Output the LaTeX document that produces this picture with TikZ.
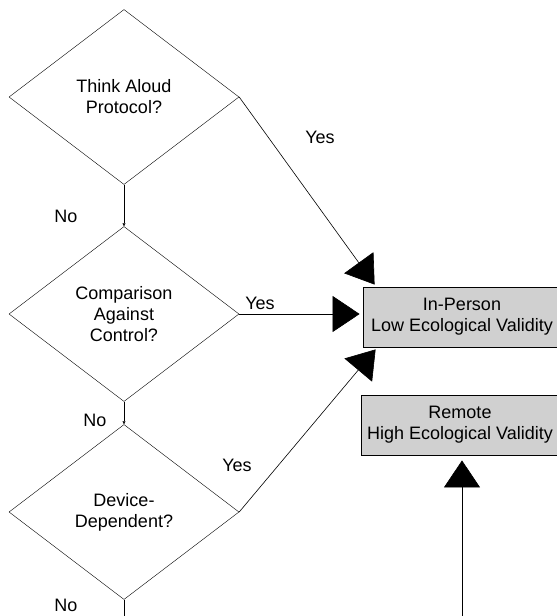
\documentclass[tikz,border=0pt]{standalone}
\usepackage{fontspec}
\setmainfont{Liberation Sans}
\usetikzlibrary{arrows.meta, positioning, shapes.geometric}

\begin{document}
\begin{tikzpicture}[
        x=1pt, y=1pt,
        decision/.style={diamond, draw, aspect=1.314, inner sep=0pt, minimum width=230pt, minimum height=175pt, align=center, font=\fontsize{18}{21}\selectfont},
        outcome/.style={rectangle, draw, thick, fill={rgb,255:red,208;green,208;blue,208}, minimum width=198pt, minimum height=60pt, align=center, font=\fontsize{18}{21}\selectfont},
        answer/.style={font=\fontsize{18}{21}\selectfont},
        arrow/.style={-{Triangle[length=27pt, width=36pt]}, semithick},
        flow/.style={-{Triangle[length=3pt, width=3pt]}, semithick},
        ]
        \useasboundingbox (0,0) rectangle (557,-616);

        % Nodes
        \node[decision] (Think) at (124,-97) {Think Aloud\\Protocol?};
        \node[decision] (Compare) at (124,-314) {Comparison\\Against\\Control?};
        \node[decision] (Device) at (124,-512) {Device-\\Dependent?};
        \node[outcome] (InPerson) at (462,-317) {In-Person\\Low Ecological Validity};
        \node[outcome] (Remote) at (460,-425) {Remote\\High Ecological Validity};
        \coordinate (DeviceExit) at (124,-616);
        \coordinate (RemoteEntry) at (462,-616);

        % Answers
        \node[answer] (ThinkYes) at (320,-137) {Yes};
        \node[answer] (ThinkNo) at (66,-216) {No};
        \node[answer] (CompareYes) at (260,-303) {Yes};
        \node[answer] (CompareNo) at (95,-420) {No};
        \node[answer] (DeviceYes) at (237,-465) {Yes};
        \node[answer] (DeviceNo) at (66,-605) {No};

        % Arrows
        \draw[arrow] (Think.east) -- ([xshift=12pt, yshift=2pt]InPerson.north west);
        \draw[arrow] (Compare.east) -- ([xshift=-3pt]Compare.east -| InPerson.west);
        \draw[arrow] (Device.east) -- ([xshift=13pt, yshift=-2pt]InPerson.south west);
        \draw[arrow] (RemoteEntry) -- ([yshift=-5pt]RemoteEntry |- Remote.south);
        \draw[flow] (Think.south) -- (Compare.north);
        \draw[flow] (Compare.south) -- (Device.north);
        \draw[semithick] (Device.south) -- (DeviceExit);

\end{tikzpicture}
\end{document}
